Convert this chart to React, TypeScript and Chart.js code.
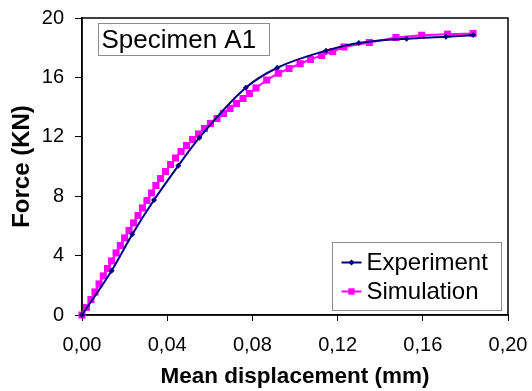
import React, { useEffect, useRef } from 'react';
import { Chart, registerables } from 'chart.js';

Chart.register(...registerables);

// ---- data ----
const seriesNames = ['Experiment', 'Simulation'];
const specimenLabel = 'Specimen A1';
const xTitle = 'Mean displacement (mm)';
const yTitle = 'Force (KN)';

const xTicks = [0, 0.04, 0.08, 0.12, 0.16, 0.2];
const yTicks = [0, 4, 8, 12, 16, 20];

const expX = [0, 0.0139, 0.0236, 0.0338, 0.0452, 0.0551, 0.0769, 0.0917, 0.1146, 0.13, 0.1524, 0.1708, 0.1837];
const expY = [0, 2.98, 5.43, 7.74, 10.05, 11.94, 15.31, 16.65, 17.8, 18.32, 18.61, 18.74, 18.85];

const simX = [
  0, 0.0021, 0.0042, 0.0061, 0.008, 0.01, 0.012, 0.0139, 0.016, 0.018,
  0.02, 0.0221, 0.0242, 0.0263, 0.0284, 0.0305, 0.0326, 0.0347, 0.0369, 0.0392,
  0.0416, 0.0439, 0.0465, 0.0491, 0.0519, 0.0547, 0.0575, 0.0603, 0.0634, 0.0664,
  0.0695, 0.0725, 0.0756, 0.0786, 0.0817, 0.0867, 0.0922, 0.0972, 0.1024, 0.1073,
  0.1125, 0.1177, 0.123, 0.1349, 0.1474, 0.1595, 0.1716, 0.1836,
];
const simY = [
  0, 0.51, 1.04, 1.55, 2.09, 2.63, 3.13, 3.64, 4.18, 4.68,
  5.19, 5.69, 6.2, 6.7, 7.21, 7.71, 8.22, 8.72, 9.19, 9.66,
  10.13, 10.57, 11.01, 11.41, 11.82, 12.19, 12.56, 12.9, 13.23, 13.57,
  13.91, 14.24, 14.58, 14.92, 15.29, 15.82, 16.28, 16.6, 16.92, 17.21,
  17.48, 17.74, 18.05, 18.35, 18.69, 18.84, 18.91, 18.96,
];

const FONT = '"Liberation Sans", Arial, sans-serif';
const EXP_COLOR = '#000080';
const SIM_COLOR = '#FF00FF';

const decorPlugin = {
  id: 'decor',
  beforeDatasetsDraw(chart: any) {
    const { ctx, chartArea } = chart;
    ctx.save();
    ctx.strokeStyle = '#000';
    ctx.lineWidth = 1.5;
    ctx.strokeRect(chartArea.left, chartArea.top, chartArea.right - chartArea.left, chartArea.bottom - chartArea.top);
    ctx.restore();
  },
  afterDraw(chart: any) {
    const { ctx, chartArea } = chart;
    ctx.save();
    // Specimen label box
    const bx = chartArea.left + 16.5;
    const by = chartArea.top + 5.5;
    ctx.fillStyle = '#fff';
    ctx.fillRect(bx, by, 171, 32);
    ctx.strokeStyle = '#8c8c8c';
    ctx.lineWidth = 1;
    ctx.strokeRect(bx, by, 171, 32);
    ctx.fillStyle = '#000';
    ctx.font = `26px ${FONT}`;
    ctx.textBaseline = 'middle';
    ctx.textAlign = 'left';
    ctx.fillText(specimenLabel, bx + 3, by + 17);

    // Legend box
    const lx = 332.5;
    const ly = 242.5;
    const lw = 169;
    const lh = 68;
    ctx.fillStyle = '#fff';
    ctx.fillRect(lx, ly, lw, lh);
    ctx.strokeStyle = '#8c8c8c';
    ctx.strokeRect(lx, ly, lw, lh);
    const rows = [
      { name: seriesNames[0], color: EXP_COLOR, style: 'rectRot', r: 3 },
      { name: seriesNames[1], color: SIM_COLOR, style: 'rect', r: 4.5 },
    ];
    rows.forEach((row, i) => {
      const cy = ly + 20 + i * 29;
      ctx.strokeStyle = row.color;
      ctx.lineWidth = 2;
      ctx.beginPath();
      ctx.moveTo(lx + 9, cy);
      ctx.lineTo(lx + 29, cy);
      ctx.stroke();
      ctx.fillStyle = row.color;
      const s = row.r;
      ctx.beginPath();
      if (row.style === 'rect') {
        ctx.rect(lx + 19 - s * 0.707, cy - s * 0.707, s * 1.414, s * 1.414);
      } else {
        ctx.moveTo(lx + 19, cy - s);
        ctx.lineTo(lx + 19 + s, cy);
        ctx.lineTo(lx + 19, cy + s);
        ctx.lineTo(lx + 19 - s, cy);
        ctx.closePath();
      }
      ctx.fill();
      ctx.fillStyle = '#000';
      ctx.font = `24px ${FONT}`;
      ctx.textBaseline = 'middle';
      ctx.textAlign = 'left';
      ctx.fillText(row.name, lx + 34, cy + 1);
    });
    ctx.restore();
  },
};

export default function App() {
  const canvasRef = useRef<HTMLCanvasElement | null>(null);

  useEffect(() => {
    if (!canvasRef.current) return;
    const fmtX = (v: number) => v.toFixed(2).replace('.', ',');
    const chart = new Chart(canvasRef.current, {
      type: 'line',
      data: {
        datasets: [
          {
            label: seriesNames[0],
            data: expX.map((x, i) => ({ x, y: expY[i] })),
            borderColor: EXP_COLOR,
            backgroundColor: EXP_COLOR,
            borderWidth: 2,
            pointStyle: 'rectRot',
            pointRadius: 3,
            pointBorderWidth: 0,
            cubicInterpolationMode: 'monotone',
            clip: false,
          },
          {
            label: seriesNames[1],
            data: simX.map((x, i) => ({ x, y: simY[i] })),
            borderColor: SIM_COLOR,
            backgroundColor: SIM_COLOR,
            borderWidth: 2,
            pointStyle: 'rect',
            pointRadius: 5,
            pointBorderWidth: 0,
            clip: false,
          },
        ],
      },
      options: {
        animation: false,
        responsive: true,
        maintainAspectRatio: false,
        layout: { padding: { left: 0, top: 18, right: 24, bottom: 0 } },
        plugins: {
          legend: { display: false },
          tooltip: { enabled: false },
        },
        scales: {
          x: {
            type: 'linear',
            min: 0,
            max: 0.2,
            afterBuildTicks: (scale: any) => {
              scale.ticks = xTicks.map((v) => ({ value: v }));
            },
            afterFit: (scale: any) => {
              scale.height = 76;
              scale.paddingLeft = 0;
              scale.paddingRight = 0;
            },
            grid: { display: true, drawOnChartArea: false, drawTicks: true, tickLength: 6, color: '#000', lineWidth: 1 },
            border: { display: true, color: '#000', width: 1.5 },
            ticks: {
              color: '#000',
              font: { family: FONT, size: 20 },
              padding: 12,
              maxRotation: 0,
              autoSkip: false,
              callback: (v: any) => fmtX(Number(v)),
            },
            title: {
              display: true,
              text: xTitle,
              color: '#000',
              font: { family: FONT, size: 22.5, weight: 'bold' },
              padding: { top: 0, bottom: 1 },
            },
          },
          y: {
            type: 'linear',
            min: 0,
            max: 20,
            afterBuildTicks: (scale: any) => {
              scale.ticks = yTicks.map((v) => ({ value: v }));
            },
            afterFit: (scale: any) => {
              scale.width = 82;
              scale.paddingTop = 0;
              scale.paddingBottom = 0;
            },
            grid: { display: true, drawOnChartArea: false, drawTicks: true, tickLength: 7, color: '#000', lineWidth: 1 },
            border: { display: true, color: '#000', width: 1.5 },
            ticks: {
              color: '#000',
              font: { family: FONT, size: 20 },
              padding: 11,
              autoSkip: false,
              callback: (v: any) => String(v),
            },
            title: {
              display: true,
              text: yTitle,
              color: '#000',
              font: { family: FONT, size: 24, weight: 'bold' },
              padding: { top: 8, bottom: 0 },
            },
          },
        },
      } as any,
      plugins: [decorPlugin],
    });
    return () => chart.destroy();
  }, []);

  return (
    <div style={{ position: 'absolute', left: 0, top: 0, width: 532, height: 391, background: '#fff' }}>
      <canvas ref={canvasRef} />
    </div>
  );
}
